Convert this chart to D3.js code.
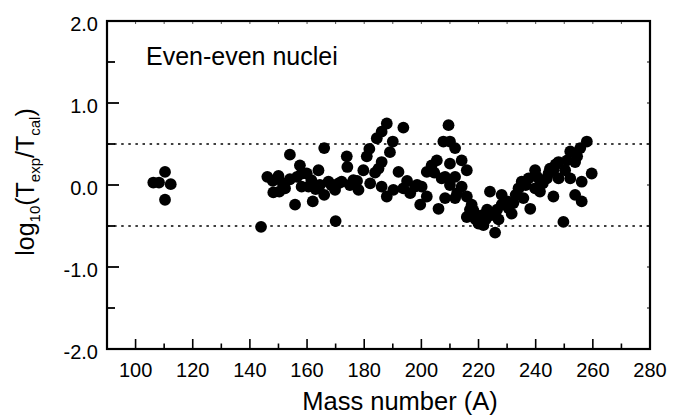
<!DOCTYPE html>
<html>
<head>
<meta charset="utf-8">
<script src="https://cdn.jsdelivr.net/npm/d3@7"></script>
<style>
  body { margin: 0; background: #fff; }
  svg { display: block; font-family: "Liberation Sans", Arial, sans-serif; }
</style>
</head>
<body>
<svg id="chart" width="690" height="415"></svg>
<script>
// Mass number A of each nucleus
const massA = [
  106.2, 108.2, 110.3, 112.3, 110.3,
  143.9, 146.1, 148.2, 150.0, 150.3, 152.3, 154.0, 154.0, 155.8, 157.5,
  158.1, 158.1, 159.9, 160.5, 162.0, 164.0, 164.5, 166.0, 166.0, 167.5,
  169.8, 170.0, 172.1, 173.9, 174.1, 176.2, 178.0, 179.7, 180.9, 181.8,
  182.1, 183.8, 184.4, 186.1, 186.1, 186.1, 187.9, 187.9, 190.0, 190.2,
  192.0, 193.7, 193.7, 196.1, 197.8, 199.6, 200.1, 201.9, 201.9, 203.6,
  206.0, 205.4, 207.1, 207.7, 209.5,
  208.3, 210.0, 211.8, 208.3, 210.0, 211.8, 214.1, 215.9, 210.0, 214.1,
  211.8, 215.9, 217.6, 215.9, 218.2, 219.4, 220.0, 221.7, 221.1, 224.0,
  224.0, 225.8, 225.8, 228.1, 228.1, 229.9, 231.6, 232.2, 234.0, 235.7,
  235.1, 237.5, 238.1, 239.8, 239.8, 241.5, 241.5, 243.9, 244.5, 246.2,
  246.2, 248.0, 248.0, 249.7, 250.3, 252.1, 252.1, 253.8, 253.8, 255.6,
  256.1, 256.1, 257.9, 259.6,
  148.0, 151.5, 156.5, 161.5, 163.0, 168.5, 171.0, 175.0, 177.5, 185.0,
  189.0, 195.0, 198.5, 204.5, 212.5, 217.0, 219.0, 222.5, 223.0, 226.5,
  227.0, 230.5, 233.0, 236.5, 240.5, 242.5, 245.0, 247.0, 251.0, 254.5
];
// log10(T_exp / T_cal) for each nucleus
const logRatio = [
  0.03, 0.03, 0.16, 0.01, -0.18,
  -0.51, 0.10, -0.09, 0.11, -0.08, -0.04, 0.37, 0.07, -0.24, 0.24,
  0.14, -0.02, 0.14, -0.02, -0.20, 0.18, 0.00, 0.45, -0.12, 0.04,
  -0.06, -0.44, 0.04, 0.35, 0.22, 0.06, -0.06, 0.18, 0.35, 0.44,
  0.02, 0.15, 0.57, 0.65, 0.28, -0.02, 0.75, -0.14, 0.53, -0.06,
  0.16, 0.70, -0.04, -0.10, -0.02, -0.24, -0.02, 0.16, -0.14, 0.24,
  -0.29, 0.30, 0.08, 0.53, 0.73,
  0.10, 0.26, 0.45, -0.16, 0.00, 0.10, 0.30, 0.18, 0.53, -0.02,
  -0.16, -0.14, -0.24, -0.39, -0.31, -0.39, -0.47, -0.49, -0.37, -0.08,
  -0.37, -0.58, -0.37, -0.12, -0.24, -0.20, -0.35, -0.22, -0.04, -0.16,
  0.04, 0.08, -0.29, 0.18, -0.04, 0.06, -0.08, 0.08, 0.14, -0.14,
  0.18, 0.28, 0.08, -0.45, 0.18, 0.08, 0.41, 0.28, -0.12, 0.45,
  0.04, -0.20, 0.53, 0.14,
  0.05, 0.02, 0.10, 0.06, -0.05, 0.00, 0.02, 0.00, 0.05, 0.20,
  0.40, 0.05, 0.00, 0.15, -0.10, -0.30, -0.42, -0.42, -0.30, -0.30,
  -0.42, -0.28, -0.12, 0.00, 0.10, 0.02, 0.20, 0.25, 0.30, 0.35
];
const xTicks = [100, 120, 140, 160, 180, 200, 220, 240, 260, 280];
const yTicks = [-2.0, -1.0, 0.0, 1.0, 2.0];
const refLines = [0.5, -0.5];

const svg = d3.select("#chart");
const pLeft = 107, pRight = 650, pTop = 21, pBottom = 349;
const x = d3.scaleLinear().domain([90, 280]).range([pLeft, pRight]);
const y = d3.scaleLinear().domain([-2, 2]).range([pBottom, pTop]);

// reference dotted lines
svg.selectAll("line.ref").data(refLines).enter().append("line")
  .attr("x1", pLeft).attr("x2", pRight)
  .attr("y1", d => y(d)).attr("y2", d => y(d))
  .attr("stroke", "#000").attr("stroke-width", 1.4)
  .attr("stroke-dasharray", "2.5,4.6");

// points
svg.selectAll("circle.pt").data(massA.map((a, i) => [a, logRatio[i]])).enter()
  .append("circle")
  .attr("cx", d => x(d[0])).attr("cy", d => y(d[1]))
  .attr("r", 5.9).attr("fill", "#000");

// bottom axis ticks (inward)
const xMinor = d3.range(90, 281, 10);
svg.selectAll("line.xt").data(xMinor).enter().append("line")
  .attr("x1", d => x(d)).attr("x2", d => x(d))
  .attr("y1", pBottom).attr("y2", d => pBottom - (d % 20 === 0 ? 10 : 5.5))
  .attr("stroke", "#000").attr("stroke-width", 1.6);
// top axis small ticks
svg.selectAll("line.xtt").data(xMinor).enter().append("line")
  .attr("x1", d => x(d)).attr("x2", d => x(d))
  .attr("y1", pTop).attr("y2", pTop + 3)
  .attr("stroke", "#555").attr("stroke-width", 1);
// left axis ticks
const yMinor = d3.range(-2, 2.01, 0.5);
svg.selectAll("line.yt").data(yMinor).enter().append("line")
  .attr("y1", d => y(d)).attr("y2", d => y(d))
  .attr("x1", pLeft).attr("x2", d => pLeft + (Math.abs(d - Math.round(d)) < 1e-6 ? 12 : 8))
  .attr("stroke", "#000").attr("stroke-width", 1.8);
// right axis small ticks
svg.selectAll("line.ytr").data(yMinor).enter().append("line")
  .attr("y1", d => y(d)).attr("y2", d => y(d))
  .attr("x1", pRight).attr("x2", pRight - 3)
  .attr("stroke", "#333").attr("stroke-width", 1.2);

// frame
svg.append("rect").attr("x", pLeft).attr("y", pTop)
  .attr("width", pRight - pLeft).attr("height", pBottom - pTop)
  .attr("fill", "none").attr("stroke", "#000").attr("stroke-width", 2.2);

// tick labels
svg.selectAll("text.xl").data(xTicks).enter().append("text")
  .attr("x", d => x(d)).attr("y", 377)
  .attr("text-anchor", "middle").attr("font-size", 20)
  .text(d => d);
svg.selectAll("text.yl").data(yTicks).enter().append("text")
  .attr("x", 98).attr("y", d => y(d) + 10)
  .attr("text-anchor", "end").attr("font-size", 20)
  .text(d => d.toFixed(1));

// axis titles
svg.append("text").attr("x", 400).attr("y", 410)
  .attr("text-anchor", "middle").attr("font-size", 25.5)
  .text("Mass number (A)");

const yt = svg.append("text")
  .attr("transform", "translate(34,182) rotate(-90)")
  .attr("text-anchor", "middle").attr("font-size", 25);
yt.append("tspan").text("log");
yt.append("tspan").attr("font-size", 15).attr("dy", 6).text("10");
yt.append("tspan").attr("dy", -6).text("(T");
yt.append("tspan").attr("font-size", 15).attr("dy", 6).text("exp");
yt.append("tspan").attr("dy", -6).text("/T");
yt.append("tspan").attr("font-size", 15).attr("dy", 6).text("cal");
yt.append("tspan").attr("dy", -6).text(")");

// annotation
svg.append("text").attr("x", 146).attr("y", 65)
  .attr("font-size", 25).text("Even-even nuclei");
</script>
</body>
</html>
